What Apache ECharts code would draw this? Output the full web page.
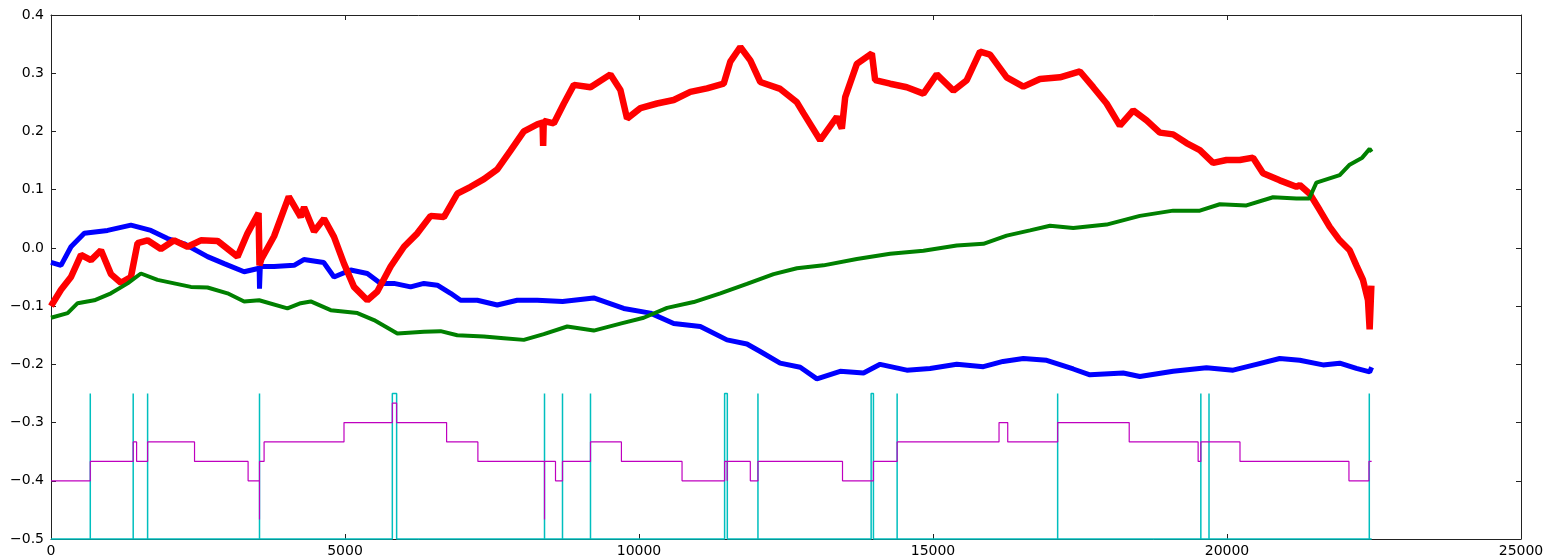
<!DOCTYPE html>
<html>
<head>
<meta charset="utf-8">
<script src="https://cdn.jsdelivr.net/npm/echarts@6/dist/echarts.min.js"></script>
<style>
  html, body { margin: 0; padding: 0; background: #fff; }
  #chart { width: 1555px; height: 559px; }
</style>
</head>
<body>
<div id="chart"></div>
<script>
// values (x = sample index)
const blueX = [0, 170, 340, 566, 963, 1359, 1699, 1982, 2265, 2662, 2945, 3285, 3540, 3546, 3560, 3794, 4134, 4300, 4638, 4813, 5097, 5380, 5607, 5833, 6116, 6342, 6570, 6796, 6966, 7250, 7590, 7929, 8269, 8700, 9230, 9740, 10194, 10590, 11043, 11496, 11836, 12062, 12400, 12742, 13026, 13421, 13818, 14101, 14554, 14950, 15404, 15857, 16191, 16536, 16933, 17385, 17669, 18235, 18518, 19084, 19651, 20104, 20500, 20897, 21237, 21633, 21917, 22200, 22426, 22460];
const blueY = [-0.025, -0.03, 0.002, 0.025, 0.030, 0.039, 0.030, 0.016, 0.007, -0.015, -0.027, -0.041, -0.035, -0.07, -0.032, -0.032, -0.030, -0.02, -0.025, -0.05, -0.038, -0.044, -0.061, -0.061, -0.067, -0.061, -0.064, -0.078, -0.090, -0.090, -0.098, -0.090, -0.090, -0.092, -0.086, -0.104, -0.112, -0.13, -0.135, -0.158, -0.165, -0.178, -0.198, -0.205, -0.225, -0.212, -0.215, -0.200, -0.210, -0.207, -0.200, -0.204, -0.195, -0.190, -0.193, -0.208, -0.218, -0.215, -0.221, -0.212, -0.206, -0.210, -0.200, -0.190, -0.193, -0.201, -0.198, -0.207, -0.213, -0.205];

const redX = [0, 29, 170, 340, 510, 680, 850, 1019, 1189, 1359, 1472, 1642, 1869, 2095, 2322, 2549, 2832, 3172, 3342, 3530, 3546, 3575, 3794, 4044, 4247, 4304, 4474, 4644, 4813, 4983, 5153, 5380, 5550, 5776, 6003, 6230, 6456, 6682, 6909, 7136, 7362, 7590, 7815, 8041, 8269, 8360, 8370, 8380, 8552, 8722, 8892, 9175, 9514, 9684, 9797, 10024, 10307, 10590, 10873, 11157, 11440, 11553, 11723, 11893, 12062, 12402, 12686, 12799, 13082, 13365, 13450, 13507, 13705, 13960, 14016, 14271, 14554, 14837, 15064, 15347, 15574, 15800, 15970, 16253, 16536, 16819, 17159, 17499, 17725, 17952, 18178, 18405, 18632, 18858, 19084, 19311, 19538, 19764, 19991, 20218, 20443, 20613, 20897, 21180, 21237, 21407, 21577, 21747, 21917, 22086, 22200, 22313, 22398, 22426, 22455];
const redY = [-0.1, -0.095, -0.072, -0.05, -0.012, -0.021, -0.004, -0.045, -0.06, -0.05, 0.008, 0.013, -0.002, 0.013, 0.002, 0.013, 0.012, -0.015, 0.025, 0.06, -0.03, -0.02, 0.02, 0.088, 0.053, 0.07, 0.028, 0.05, 0.019, -0.027, -0.067, -0.09, -0.075, -0.032, 0.002, 0.025, 0.055, 0.053, 0.093, 0.105, 0.118, 0.135, 0.167, 0.2, 0.212, 0.215, 0.175, 0.218, 0.214, 0.248, 0.28, 0.276, 0.298, 0.271, 0.222, 0.24, 0.248, 0.254, 0.268, 0.274, 0.282, 0.32, 0.345, 0.322, 0.285, 0.273, 0.25, 0.231, 0.185, 0.225, 0.205, 0.259, 0.316, 0.334, 0.288, 0.282, 0.276, 0.265, 0.298, 0.27, 0.288, 0.337, 0.332, 0.293, 0.277, 0.29, 0.293, 0.303, 0.276, 0.248, 0.21, 0.236, 0.219, 0.198, 0.195, 0.18, 0.168, 0.146, 0.151, 0.151, 0.155, 0.128, 0.116, 0.105, 0.108, 0.093, 0.065, 0.036, 0.013, -0.004, -0.03, -0.055, -0.09, -0.14, -0.065];

const greenX = [0, 283, 453, 736, 1019, 1303, 1529, 1812, 2095, 2379, 2662, 3002, 3285, 3540, 4021, 4247, 4417, 4757, 5211, 5493, 5890, 6342, 6626, 6909, 7362, 7701, 8041, 8381, 8779, 9230, 9684, 10080, 10477, 10930, 11383, 11836, 12289, 12686, 13138, 13705, 14271, 14837, 15404, 15857, 16253, 16650, 16990, 17385, 17952, 18518, 19084, 19538, 19878, 20331, 20783, 21180, 21400, 21520, 21917, 22086, 22300, 22426, 22460];
const greenY = [-0.12, -0.112, -0.095, -0.09, -0.078, -0.061, -0.044, -0.055, -0.061, -0.067, -0.068, -0.078, -0.092, -0.09, -0.104, -0.095, -0.092, -0.107, -0.112, -0.124, -0.147, -0.144, -0.143, -0.15, -0.152, -0.155, -0.158, -0.148, -0.135, -0.142, -0.13, -0.12, -0.103, -0.093, -0.078, -0.062, -0.045, -0.035, -0.03, -0.019, -0.01, -0.005, 0.004, 0.007, 0.021, 0.03, 0.038, 0.034, 0.04, 0.055, 0.064, 0.064, 0.075, 0.073, 0.087, 0.085, 0.085, 0.112, 0.125, 0.143, 0.155, 0.17, 0.165];

// cyan: baseline with single-sample spikes and a few short pulses
const cyanLow = -0.5;
const cyanHigh = -0.25;
const cyanSpikes = [668, 1398, 1643, 3546, 8393, 8699, 9175, 12023, 14390, 17120, 19555, 19694, 22420];
const cyanPulses = [[5805, 5878], [11456, 11502], [13948, 13987]];
const cyanEnd = 22460;

// magenta: step levels, each level holds from its x until the next x
const magentaX = [0, 668, 1398, 1456, 1643, 2441, 3352, 3546, 3546, 3624, 4983, 5805, 5878, 6728, 7260, 8393, 8393, 8580, 8699, 9175, 9701, 10732, 11456, 11500, 11500, 11893, 12023, 13461, 13987, 14390, 16123, 16271, 17120, 18337, 19509, 19555, 20221, 22074, 22414, 22460];
const magentaY = [-0.4, -0.3667, -0.3333, -0.3667, -0.3333, -0.3667, -0.4, -0.4667, -0.3667, -0.3333, -0.3, -0.2667, -0.3, -0.3333, -0.3667, -0.4667, -0.3667, -0.4, -0.3667, -0.3333, -0.3667, -0.4, -0.3667, -0.4, -0.3667, -0.4, -0.3667, -0.4, -0.3667, -0.3333, -0.3, -0.3333, -0.3, -0.3333, -0.3667, -0.3333, -0.3667, -0.4, -0.3667, -0.3667];

const xTicks = { min: 0, max: 25000, interval: 5000 };
const yTicks = { min: -0.5, max: 0.4, interval: 0.1 };

const zip = (xs, ys) => xs.map((x, i) => [x, ys[i]]);

// build cyan path
const events = [];
cyanSpikes.forEach(x => events.push([x, x]));
cyanPulses.forEach(p => events.push(p));
events.sort((a, b) => a[0] - b[0]);
const cyanData = [[0, cyanLow]];
events.forEach(([a, b]) => {
  cyanData.push([a, cyanLow], [a, cyanHigh], [b, cyanHigh], [b, cyanLow]);
});
cyanData.push([cyanEnd, cyanLow]);

const chart = echarts.init(document.getElementById('chart'));
const font = { fontFamily: 'DejaVu Sans', fontSize: 14, color: '#000' };
const minus = v => String(v).replace('-', '\u2212');

const axisBase = {
  type: 'value',
  axisLine: { show: true, onZero: false, lineStyle: { color: '#222', width: 1 } },
  axisTick: { show: true, inside: true, length: 5, lineStyle: { color: '#222' } },
  splitLine: { show: false }
};

chart.setOption({
  animation: false,
  backgroundColor: '#fff',
  grid: { left: 51, right: 34, top: 15, bottom: 20 },
  xAxis: [
    Object.assign({}, axisBase, xTicks, {
      position: 'bottom',
      axisLabel: Object.assign({}, font, { margin: 5, formatter: v => String(v) })
    }),
    Object.assign({}, axisBase, xTicks, { position: 'top', axisLabel: { show: false } })
  ],
  yAxis: [
    Object.assign({}, axisBase, yTicks, {
      position: 'left',
      axisLabel: Object.assign({}, font, { margin: 7, formatter: v => minus(v.toFixed(1)) })
    }),
    Object.assign({}, axisBase, yTicks, { position: 'right', axisLabel: { show: false } })
  ],
  series: [
    { type: 'line', data: zip(blueX, blueY), showSymbol: false, lineStyle: { color: '#0000ff', width: 5 }, z: 2 },
    { type: 'line', data: zip(redX, redY), showSymbol: false, lineStyle: { color: '#ff0000', width: 6.5 }, z: 3 },
    { type: 'line', data: zip(greenX, greenY), showSymbol: false, lineStyle: { color: '#008000', width: 4 }, z: 4 },
    { type: 'line', data: cyanData, showSymbol: false, clip: false, lineStyle: { color: '#00bfbf', width: 1.5 }, z: 5 },
    { type: 'line', data: zip(magentaX, magentaY), step: 'end', showSymbol: false, lineStyle: { color: '#bf00bf', width: 1.2 }, z: 6 }
  ]
});
</script>
</body>
</html>
